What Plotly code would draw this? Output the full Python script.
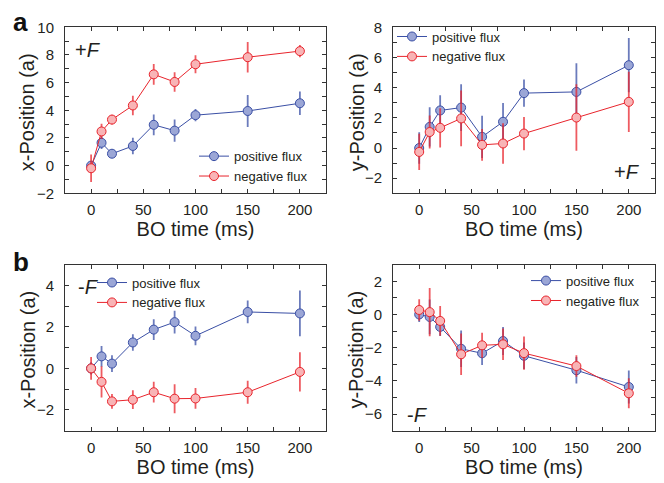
import plotly.graph_objects as go

W, H = 664, 483

bo_time = [0, 10, 20, 40, 60, 80, 100, 150, 200]

# Panel a (+F) x-position
a_x_pos = [0.0, 1.65, 0.86, 1.42, 2.95, 2.53, 3.65, 3.95, 4.51]
a_x_pos_err = [0.3, 0.45, 0.3, 0.6, 0.75, 0.8, 0.45, 1.15, 0.85]
a_x_neg = [-0.19, 2.47, 3.33, 4.35, 6.6, 6.05, 7.33, 7.84, 8.28]
a_x_neg_err = [1.0, 0.55, 0.35, 0.7, 0.75, 0.7, 0.65, 1.1, 0.45]

# Panel a (+F) y-position
a_y_pos = [0.0, 1.4, 2.49, 2.68, 0.74, 1.74, 3.64, 3.72, 5.49]
a_y_pos_err = [1.05, 1.3, 1.0, 1.55, 1.4, 1.25, 0.9, 1.9, 1.8]
a_y_neg = [-0.26, 1.06, 1.34, 1.96, 0.21, 0.3, 0.96, 2.02, 3.06]
a_y_neg_err = [1.2, 1.1, 1.3, 1.85, 1.05, 1.35, 1.1, 2.2, 2.0]

# Panel b (-F) x-position
b_x_pos = [0.0, 0.58, 0.23, 1.25, 1.87, 2.23, 1.57, 2.72, 2.65]
b_x_pos_err = [0.3, 0.5, 0.4, 0.4, 0.5, 0.55, 0.45, 0.55, 1.1]
b_x_neg = [0.0, -0.65, -1.59, -1.51, -1.15, -1.46, -1.45, -1.15, -0.17]
b_x_neg_err = [0.55, 0.75, 0.35, 0.45, 0.5, 0.7, 0.5, 0.55, 0.95]

# Panel b (-F) y-position
b_y_pos = [0.0, -0.15, -0.75, -2.07, -2.34, -1.6, -2.49, -3.36, -4.37]
b_y_pos_err = [0.45, 1.05, 0.55, 1.1, 0.7, 0.85, 0.8, 0.8, 1.0]
b_y_neg = [0.27, 0.14, -0.39, -2.4, -1.86, -1.8, -2.33, -3.11, -4.75]
b_y_neg_err = [0.65, 1.45, 0.9, 1.25, 0.75, 0.95, 1.0, 0.65, 0.9]

series_names = ["positive flux", "negative flux"]
x_title = "BO time (ms)"
y_titles = ["x-Position (a)", "y-Position (a)", "x-Position (a)", "y-Position (a)"]

BLUE_LINE = "#3a4fa5"
BLUE_FILL = "#9ba6d6"
BLUE_ERR = "rgba(58,79,165,0.75)"
RED_LINE = "#e8242c"
RED_FILL = "#f8b4b6"
RED_ERR = "rgba(232,36,44,0.75)"
TXT = "#231f20"
FONT = "Liberation Sans, Arial, sans-serif"

fig = go.Figure()

panels = [
    ("x", "y", "legend", a_x_pos, a_x_pos_err, a_x_neg, a_x_neg_err),
    ("x2", "y2", "legend2", a_y_pos, a_y_pos_err, a_y_neg, a_y_neg_err),
    ("x3", "y3", "legend3", b_x_pos, b_x_pos_err, b_x_neg, b_x_neg_err),
    ("x4", "y4", "legend4", b_y_pos, b_y_pos_err, b_y_neg, b_y_neg_err),
]

for xa, ya, lg, pos, pos_err, neg, neg_err in panels:
    for name, vals, errs, lc, fc, ec in [
        (series_names[0], pos, pos_err, BLUE_LINE, BLUE_FILL, BLUE_ERR),
        (series_names[1], neg, neg_err, RED_LINE, RED_FILL, RED_ERR),
    ]:
        fig.add_trace(go.Scatter(
            x=bo_time, y=vals, name=name, xaxis=xa, yaxis=ya, legend=lg,
            mode="lines+markers",
            line=dict(color=lc, width=1),
            marker=dict(size=9, color=fc, line=dict(color=lc, width=1)),
            error_y=dict(type="data", array=errs, visible=True,
                         color=ec, thickness=1.8, width=0),
        ))

def px_x(p):
    return p / W

def px_y(p):
    return 1 - p / H

xdom_left = [px_x(65), px_x(326)]
xdom_right = [px_x(393), px_x(655)]
ydom_top = [px_y(191), px_y(19)]
ydom_bot = [px_y(437), px_y(265)]

common_x = dict(
    range=[-25, 225], tickvals=[0, 50, 100, 150, 200],
    ticks="inside", ticklen=4, tickcolor="#333", tickwidth=1,
    showline=True, linecolor="#333", linewidth=1, mirror="allticks",
    showgrid=False, zeroline=False, automargin=True,
    minor=dict(ticks="inside", ticklen=4, dtick=25, tick0=0, tickcolor="#333", showgrid=False),
    tickfont=dict(size=15, color=TXT, family=FONT),
    title=dict(text=x_title, font=dict(size=20, color=TXT, family=FONT), standoff=2),
    ticklabelstandoff=3,
)

def yaxis(rng, tickvals, dom):
    return dict(
        range=rng, tickvals=tickvals, domain=dom,
        ticks="inside", ticklen=4, tickcolor="#333", tickwidth=1,
        showline=True, linecolor="#333", linewidth=1, mirror="allticks",
        showgrid=False, zeroline=False,
        minor=dict(ticks="inside", ticklen=4, dtick=1, tick0=0, tickcolor="#333", showgrid=False),
        tickfont=dict(size=15, color=TXT, family=FONT),
        ticklabelstandoff=7,
    )

fig.update_layout(
    width=W, height=H,
    margin=dict(l=0, r=0, t=0, b=0),
    paper_bgcolor="white", plot_bgcolor="white",
    font=dict(family=FONT, color=TXT),
    xaxis=dict(common_x, domain=xdom_left, anchor="y"),
    xaxis2=dict(common_x, domain=xdom_right, anchor="y2"),
    xaxis3=dict(common_x, domain=xdom_left, anchor="y3"),
    xaxis4=dict(common_x, domain=xdom_right, anchor="y4"),
    yaxis=dict(yaxis([-2, 10], [-2, 0, 2, 4, 6, 8, 10], ydom_top), anchor="x"),
    yaxis2=dict(yaxis([-3, 8], [-2, 0, 2, 4, 6, 8], ydom_top), anchor="x2"),
    yaxis3=dict(yaxis([-3, 5], [-2, 0, 2, 4], ydom_bot), anchor="x3"),
    yaxis4=dict(yaxis([-7, 3], [-6, -4, -2, 0, 2], ydom_bot), anchor="x4"),
)

legend_common = dict(
    bgcolor="rgba(0,0,0,0)", borderwidth=0,
    font=dict(size=13, color=TXT, family=FONT),
    xanchor="left", yanchor="top", itemwidth=30, tracegroupgap=0,
)
fig.update_layout(
    legend=dict(legend_common, x=px_x(236 - 42), y=px_y(137)),
    legend2=dict(legend_common, x=px_x(434 - 42), y=px_y(13)),
    legend3=dict(legend_common, x=px_x(134 - 42), y=px_y(268)),
    legend4=dict(legend_common, x=px_x(568 - 42), y=px_y(266)),
)

# y-axis titles (placed beside each frame)
ytitle_pos = [(27, ydom_top), (357, ydom_top), (28, ydom_bot), (356, ydom_bot)]
for txt, (cx, dom) in zip(y_titles, ytitle_pos):
    fig.add_annotation(
        text=txt, x=px_x(cx), y=(dom[0] + dom[1]) / 2 - 2 / H, xref="paper", yref="paper",
        showarrow=False, textangle=-90, xanchor="center", yanchor="middle",
        font=dict(size=20, color=TXT, family=FONT),
    )

annos = [
    ("<b>a</b>", 20, 13, 26),
    ("<b>b</b>", 21, 262, 26),
    ("+<i>F</i>", 88, 42, 20),
    ("+<i>F</i>", 627, 169, 20),
    ("-<i>F</i>", 88, 288, 20),
    ("-<i>F</i>", 417, 421, 20),
]
for text, ax, ay, fs in annos:
    fig.add_annotation(
        text=text, x=px_x(ax), y=px_y(ay), xref="paper", yref="paper",
        showarrow=False, xanchor="center", yanchor="middle",
        font=dict(size=fs, color=TXT if fs != 26 else "#111", family=FONT),
    )

fig.write_html("out.html")
